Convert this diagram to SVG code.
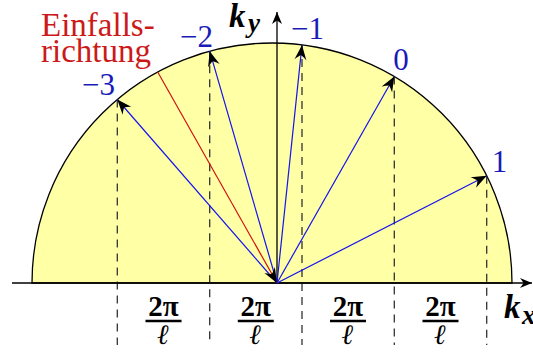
<svg xmlns="http://www.w3.org/2000/svg" width="533" height="354" viewBox="0 0 533 354">
<style>
.vec{stroke:#1414f0;stroke-width:1.2;fill:none;marker-end:url(#ah)}
.dash{stroke:#333;stroke-width:1.3;stroke-dasharray:8 6;fill:none}
.axis{stroke:#000;stroke-width:1.3;fill:none;marker-end:url(#ax)}
.lbl{font-size:31px;fill:#1a1ab8}
.red{font-size:33px;fill:#cc1a1a}
.num{font-size:29px;font-weight:bold;text-anchor:middle;fill:#000}
.den{font-size:28px;font-weight:bold;font-style:italic;text-anchor:middle;fill:#000}
.bar{stroke:#000;stroke-width:2.6}
.k{font-weight:bold;font-style:italic;fill:#000}
</style>
<defs>
<marker id="ah" markerUnits="userSpaceOnUse" viewBox="-16 -8 17 16" refX="0" refY="0" markerWidth="17" markerHeight="16" orient="auto" overflow="visible">
<path d="M0,0 L-15,-6 Q-11,-1.5 -10.5,0 Q-11,1.5 -15,6 Z" fill="#000"/>
</marker>
<marker id="ax" markerUnits="userSpaceOnUse" viewBox="-14 -7 15 14" refX="0" refY="0" markerWidth="15" markerHeight="14" orient="auto" overflow="visible">
<path d="M0,0 L-12,-5 Q-9,-1 -8.5,0 Q-9,1 -12,5 Z" fill="#000"/>
</marker>
</defs>
<g id="halfcircle">
<path d="M32,283 A240,240 0 0 1 512,283 Z" fill="#ffffa6" stroke="#000" stroke-width="1.3"/>
</g>
<g id="dashes">
<line class="dash" x1="117.3" y1="99.5" x2="117.3" y2="345"/>
<line class="dash" x1="209.7" y1="51.2" x2="209.7" y2="345"/>
<line class="dash" x1="302" y1="44.9" x2="302" y2="345"/>
<line class="dash" x1="394.3" y1="76.5" x2="394.3" y2="345"/>
<line class="dash" x1="486.7" y1="175.7" x2="486.7" y2="345"/>
</g>
<g id="axes">
<line class="axis" x1="12" y1="283" x2="532" y2="283"/>
<line class="axis" x1="277" y1="283" x2="277" y2="12"/>
</g>
<g id="connectors">
<line class="vec" x1="277" y1="283" x2="117.3" y2="99.5"/>
<line class="vec" x1="277" y1="283" x2="209.7" y2="51.2"/>
<line class="vec" x1="277" y1="283" x2="302" y2="44.9"/>
<line class="vec" x1="277" y1="283" x2="394.3" y2="76.5"/>
<line class="vec" x1="277" y1="283" x2="486.7" y2="175.7"/>
<line x1="157.7" y1="72" x2="277" y2="283" stroke="#d01010" stroke-width="1.2" marker-end="url(#ah)"/>
</g>
<g font-family="Liberation Serif, DejaVu Serif, serif">
<g id="incident-label">
<text class="red" x="41" y="36">Einfalls-</text>
<text class="red" x="41" y="62">richtung</text>
</g>
<g id="order-labels">
<text class="lbl" x="115" y="95" text-anchor="end">−3</text>
<text class="lbl" x="213" y="47" text-anchor="end">−2</text>
<text class="lbl" x="291" y="39">−1</text>
<text class="lbl" x="401" y="70" text-anchor="middle">0</text>
<text class="lbl" x="499.5" y="172" text-anchor="middle">1</text>
</g>
<g id="ky-label">
<text class="k" x="229" y="27" font-size="33">k</text>
<text class="k" x="248" y="32" font-size="27">y</text>
</g>
<g id="kx-label">
<text class="k" x="504" y="318" font-size="33">k</text>
<text class="k" x="522" y="324" font-size="27">x</text>
</g>
<g id="fractions">
<text class="num" x="163.5" y="316">2π</text>
<line class="bar" x1="145.5" y1="321" x2="181.5" y2="321"/>
<text class="den" x="163.5" y="344">ℓ</text>
<text class="num" x="255.8" y="316">2π</text>
<line class="bar" x1="237.8" y1="321" x2="273.8" y2="321"/>
<text class="den" x="255.8" y="344">ℓ</text>
<text class="num" x="348" y="316">2π</text>
<line class="bar" x1="330" y1="321" x2="366" y2="321"/>
<text class="den" x="348" y="344">ℓ</text>
<text class="num" x="440.5" y="316">2π</text>
<line class="bar" x1="422.5" y1="321" x2="458.5" y2="321"/>
<text class="den" x="440.5" y="344">ℓ</text>
</g>
</g>
</svg>
